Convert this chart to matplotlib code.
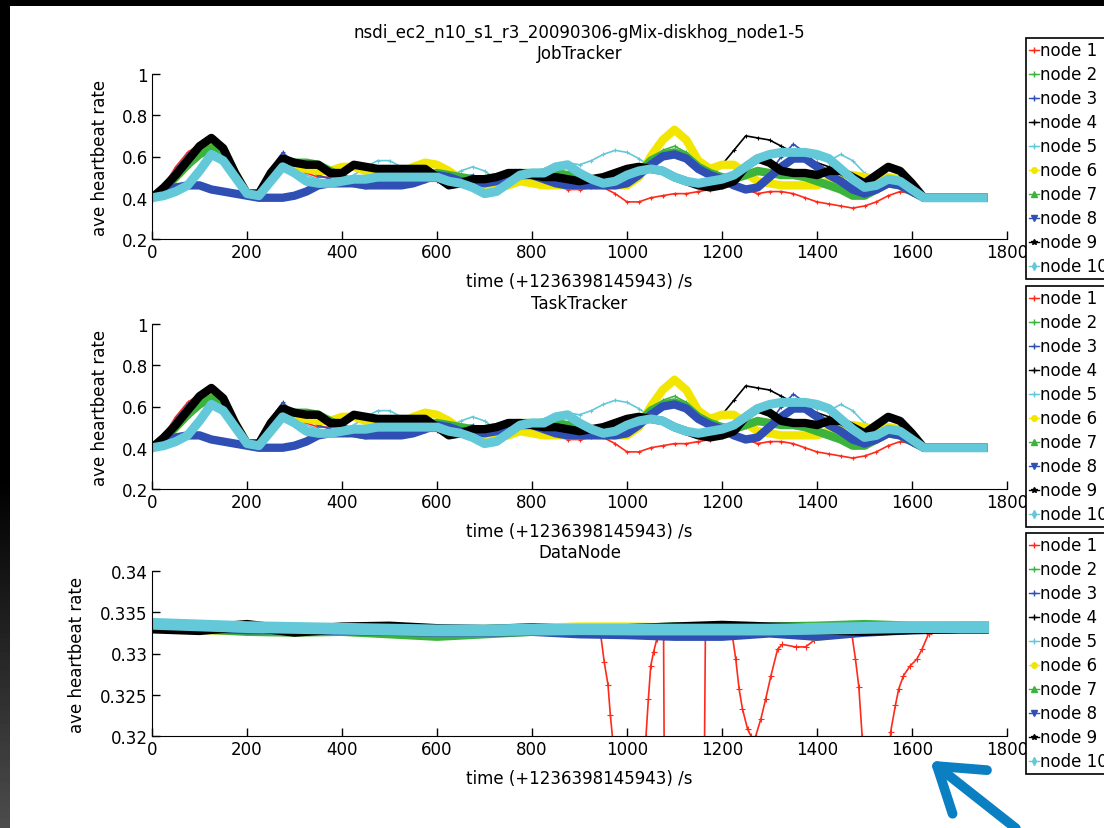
import numpy as np
import matplotlib
matplotlib.use('Agg')
import matplotlib.pyplot as plt
from matplotlib.lines import Line2D
from matplotlib.patches import FancyArrowPatch, Rectangle

# heartbeat rate samples, 25 s apart (0 .. 1750 s)
t = np.arange(0, 1751, 25)
tail = [0.40] * 5   # 1650 .. 1750

node1 = [0.40, 0.46, 0.55, 0.62, 0.66, 0.66, 0.62, 0.52, 0.42, 0.42,
         0.51, 0.58, 0.55, 0.52, 0.50, 0.50, 0.50, 0.50, 0.50, 0.49,
         0.48, 0.48, 0.48, 0.48, 0.48, 0.47, 0.50, 0.50, 0.47, 0.46,
         0.47, 0.48, 0.48, 0.48, 0.46, 0.44, 0.44, 0.45, 0.45, 0.42,
         0.38, 0.38, 0.40, 0.41, 0.42, 0.42, 0.43, 0.44, 0.45, 0.46,
         0.44, 0.42, 0.43, 0.43, 0.42, 0.40, 0.38, 0.37, 0.36, 0.35,
         0.36, 0.38, 0.41, 0.43, 0.42, 0.40] + tail
node2 = [0.40, 0.45, 0.52, 0.58, 0.63, 0.65, 0.61, 0.52, 0.42, 0.42,
         0.51, 0.58, 0.57, 0.57, 0.55, 0.52, 0.50, 0.48, 0.47, 0.49,
         0.52, 0.53, 0.53, 0.52, 0.52, 0.52, 0.51, 0.50, 0.49, 0.50,
         0.51, 0.52, 0.52, 0.52, 0.52, 0.51, 0.50, 0.50, 0.49, 0.49,
         0.50, 0.53, 0.58, 0.63, 0.65, 0.62, 0.56, 0.52, 0.50, 0.49,
         0.50, 0.52, 0.52, 0.53, 0.53, 0.51, 0.49, 0.47, 0.44, 0.42,
         0.42, 0.44, 0.47, 0.46, 0.43, 0.40] + tail
node3 = [0.40, 0.46, 0.54, 0.61, 0.66, 0.66, 0.61, 0.52, 0.42, 0.42,
         0.54, 0.62, 0.57, 0.54, 0.51, 0.49, 0.48, 0.48, 0.48, 0.48,
         0.48, 0.48, 0.49, 0.50, 0.51, 0.51, 0.50, 0.51, 0.49, 0.48,
         0.49, 0.50, 0.50, 0.49, 0.48, 0.47, 0.47, 0.47, 0.47, 0.48,
         0.49, 0.52, 0.56, 0.60, 0.61, 0.59, 0.54, 0.51, 0.49, 0.47,
         0.45, 0.46, 0.52, 0.60, 0.66, 0.62, 0.56, 0.52, 0.48, 0.45,
         0.43, 0.45, 0.48, 0.47, 0.43, 0.40] + tail
node4 = [0.40, 0.45, 0.51, 0.58, 0.65, 0.70, 0.65, 0.52, 0.42, 0.42,
         0.52, 0.59, 0.57, 0.56, 0.56, 0.52, 0.52, 0.56, 0.55, 0.54,
         0.54, 0.54, 0.54, 0.54, 0.50, 0.46, 0.47, 0.49, 0.49, 0.50,
         0.52, 0.52, 0.51, 0.50, 0.50, 0.49, 0.48, 0.49, 0.50, 0.52,
         0.54, 0.55, 0.54, 0.53, 0.50, 0.48, 0.46, 0.50, 0.56, 0.63,
         0.70, 0.69, 0.68, 0.65, 0.62, 0.59, 0.57, 0.55, 0.53, 0.50,
         0.47, 0.51, 0.55, 0.53, 0.47, 0.40] + tail
node5 = [0.40, 0.45, 0.52, 0.58, 0.62, 0.64, 0.60, 0.51, 0.42, 0.42,
         0.51, 0.57, 0.54, 0.51, 0.49, 0.48, 0.49, 0.51, 0.55, 0.58,
         0.58, 0.55, 0.52, 0.51, 0.50, 0.50, 0.53, 0.55, 0.53, 0.49,
         0.48, 0.51, 0.53, 0.54, 0.56, 0.57, 0.56, 0.58, 0.61, 0.63,
         0.62, 0.59, 0.55, 0.52, 0.50, 0.48, 0.47, 0.48, 0.50, 0.52,
         0.56, 0.60, 0.62, 0.63, 0.62, 0.61, 0.59, 0.58, 0.61, 0.58,
         0.52, 0.48, 0.49, 0.47, 0.43, 0.40] + tail
node6 = [0.40, 0.44, 0.50, 0.56, 0.62, 0.66, 0.62, 0.52, 0.42, 0.42,
         0.50, 0.57, 0.55, 0.54, 0.53, 0.53, 0.55, 0.55, 0.53, 0.51,
         0.51, 0.52, 0.55, 0.57, 0.56, 0.53, 0.49, 0.46, 0.45, 0.45,
         0.46, 0.48, 0.47, 0.46, 0.46, 0.46, 0.46, 0.47, 0.47, 0.46,
         0.46, 0.50, 0.60, 0.68, 0.73, 0.68, 0.58, 0.54, 0.56, 0.56,
         0.52, 0.48, 0.47, 0.46, 0.46, 0.46, 0.46, 0.48, 0.51, 0.51,
         0.50, 0.49, 0.50, 0.49, 0.44, 0.40] + tail
node7 = [0.40, 0.44, 0.50, 0.56, 0.61, 0.64, 0.60, 0.51, 0.42, 0.42,
         0.50, 0.57, 0.57, 0.57, 0.56, 0.53, 0.50, 0.47, 0.46, 0.48,
         0.52, 0.53, 0.52, 0.51, 0.52, 0.51, 0.50, 0.49, 0.49, 0.50,
         0.51, 0.52, 0.52, 0.52, 0.52, 0.51, 0.50, 0.49, 0.48, 0.48,
         0.49, 0.52, 0.58, 0.61, 0.62, 0.60, 0.55, 0.52, 0.50, 0.49,
         0.51, 0.53, 0.52, 0.51, 0.51, 0.50, 0.48, 0.46, 0.44, 0.41,
         0.41, 0.44, 0.47, 0.46, 0.43, 0.40] + tail
node8 = [0.40, 0.43, 0.45, 0.46, 0.46, 0.44, 0.43, 0.42, 0.41, 0.40,
         0.40, 0.40, 0.41, 0.43, 0.46, 0.47, 0.47, 0.47, 0.46, 0.46,
         0.46, 0.46, 0.47, 0.49, 0.51, 0.50, 0.48, 0.48, 0.47, 0.48,
         0.50, 0.51, 0.51, 0.49, 0.47, 0.46, 0.46, 0.46, 0.46, 0.46,
         0.47, 0.51, 0.56, 0.60, 0.61, 0.59, 0.54, 0.51, 0.49, 0.46,
         0.44, 0.45, 0.50, 0.55, 0.59, 0.59, 0.55, 0.51, 0.48, 0.44,
         0.42, 0.44, 0.47, 0.46, 0.43, 0.40] + tail
node9 = [0.40, 0.45, 0.51, 0.58, 0.65, 0.69, 0.64, 0.52, 0.42, 0.42,
         0.52, 0.59, 0.57, 0.56, 0.56, 0.52, 0.52, 0.56, 0.55, 0.54,
         0.54, 0.54, 0.54, 0.54, 0.50, 0.46, 0.47, 0.49, 0.49, 0.50,
         0.52, 0.52, 0.51, 0.50, 0.50, 0.49, 0.48, 0.49, 0.50, 0.52,
         0.54, 0.55, 0.54, 0.53, 0.50, 0.48, 0.46, 0.45, 0.46, 0.48,
         0.55, 0.59, 0.57, 0.53, 0.52, 0.52, 0.51, 0.53, 0.53, 0.50,
         0.47, 0.51, 0.55, 0.53, 0.47, 0.40] + tail
node10 = [0.40, 0.41, 0.43, 0.46, 0.53, 0.61, 0.58, 0.50, 0.42, 0.41,
          0.48, 0.55, 0.52, 0.48, 0.47, 0.47, 0.48, 0.49, 0.49, 0.50,
          0.50, 0.50, 0.50, 0.50, 0.50, 0.48, 0.47, 0.45, 0.42, 0.43,
          0.47, 0.51, 0.52, 0.52, 0.55, 0.56, 0.52, 0.49, 0.47, 0.48,
          0.51, 0.53, 0.54, 0.53, 0.50, 0.48, 0.47, 0.48, 0.49, 0.51,
          0.55, 0.59, 0.61, 0.62, 0.62, 0.62, 0.61, 0.59, 0.54, 0.49,
          0.45, 0.46, 0.49, 0.48, 0.44, 0.40] + tail

tracker_series = [node1, node2, node3, node4, node5,
                  node6, node7, node8, node9, node10]

# DataNode rates, sampled every 100 s (last sample at 1750 s)
dn_t = [0, 100, 200, 300, 400, 500, 600, 700, 800, 900,
        1000, 1100, 1200, 1300, 1400, 1500, 1600, 1700, 1750]
dn2 = [0.3334, 0.3331, 0.3329, 0.3328, 0.3328, 0.3326, 0.3324, 0.3326, 0.3328, 0.3329,
       0.3328, 0.3330, 0.3331, 0.3332, 0.3334, 0.3335, 0.3333, 0.3332, 0.3332]
dn3 = [0.3334, 0.3332, 0.3330, 0.3330, 0.3329, 0.3328, 0.3327, 0.3327, 0.3328, 0.3327,
       0.3325, 0.3323, 0.3324, 0.3326, 0.3324, 0.3327, 0.3330, 0.3331, 0.3331]
dn4 = [0.3331, 0.3328, 0.3330, 0.3327, 0.3331, 0.3330, 0.3329, 0.3328, 0.3330, 0.3329,
       0.3329, 0.3331, 0.3332, 0.3331, 0.3333, 0.3326, 0.3330, 0.3331, 0.3331]
dn5 = [0.3336, 0.3334, 0.3333, 0.3332, 0.3331, 0.3331, 0.3330, 0.3330, 0.3330, 0.3330,
       0.3330, 0.3330, 0.3330, 0.3330, 0.3331, 0.3332, 0.3333, 0.3333, 0.3333]
dn6 = [0.3333, 0.3330, 0.3329, 0.3328, 0.3328, 0.3327, 0.3327, 0.3328, 0.3329, 0.3331,
       0.3331, 0.3330, 0.3329, 0.3327, 0.3322, 0.3328, 0.3331, 0.3332, 0.3332]
dn7 = [0.3334, 0.3331, 0.3328, 0.3327, 0.3328, 0.3325, 0.3322, 0.3325, 0.3328, 0.3329,
       0.3329, 0.3331, 0.3330, 0.3331, 0.3332, 0.3334, 0.3332, 0.3332, 0.3332]
dn8 = [0.3334, 0.3332, 0.3330, 0.3330, 0.3329, 0.3328, 0.3327, 0.3327, 0.3328, 0.3325,
       0.3324, 0.3322, 0.3322, 0.3326, 0.3322, 0.3327, 0.3330, 0.3331, 0.3331]
dn9 = [0.3331, 0.3329, 0.3334, 0.3327, 0.3331, 0.3332, 0.3329, 0.3328, 0.3330, 0.3328,
       0.3329, 0.3331, 0.3333, 0.3331, 0.3330, 0.3328, 0.3330, 0.3331, 0.3331]
dn10 = [0.3336, 0.3334, 0.3332, 0.3331, 0.3330, 0.3329, 0.3328, 0.3328, 0.3329, 0.3329,
        0.3329, 0.3329, 0.3329, 0.3329, 0.3330, 0.3331, 0.3332, 0.3332, 0.3332]

# node 1 drops far below the plotted range several times
dn1_t = [0, 200, 400, 600, 800, 945, 952, 960, 965, 970, 975,
         1035, 1040, 1045, 1050, 1056, 1063, 1077, 1079,
         1162, 1165, 1222, 1229, 1236, 1243, 1254, 1261, 1265, 1271,
         1282, 1292, 1303, 1317, 1327, 1355, 1376, 1394, 1404,
         1474, 1481, 1488, 1495, 1500, 1550, 1555, 1565, 1572, 1582,
         1596, 1610, 1621, 1635, 1650, 1700, 1750]
dn1 = [0.3334, 0.3332, 0.3330, 0.3329, 0.3330, 0.3321, 0.3290, 0.3262, 0.3225, 0.3195, 0.3100,
       0.3100, 0.3200, 0.3245, 0.3285, 0.3302, 0.3318, 0.3320, 0.3100,
       0.3100, 0.3322, 0.3321, 0.3293, 0.3257, 0.3233, 0.3208, 0.3200, 0.3192, 0.3200,
       0.3221, 0.3245, 0.3273, 0.3305, 0.3311, 0.3308, 0.3308, 0.3316, 0.3321,
       0.3321, 0.3293, 0.3260, 0.3200, 0.3100, 0.3100, 0.3205, 0.3237, 0.3257, 0.3273,
       0.3285, 0.3293, 0.3305, 0.3324, 0.3330, 0.3331, 0.3332]

datanode_series = [(dn1_t, dn1), (dn_t, dn2), (dn_t, dn3), (dn_t, dn4), (dn_t, dn5),
                   (dn_t, dn6), (dn_t, dn7), (dn_t, dn8), (dn_t, dn9), (dn_t, dn10)]

labels = ['node %d' % i for i in range(1, 11)]
colors = ['#ff2a1a', '#3cb43c', '#2f4fb4', '#000000', '#63c9d9',
          '#f2e600', '#3cb43c', '#2f4fb4', '#000000', '#63c9d9']
markers = ['+', '+', '+', '+', '+', 'o', '^', 'v', '*', 'd']
widths = [1.2, 1.2, 1.2, 1.2, 1.2, 6.0, 6.0, 6.0, 6.0, 6.5]

plt.rcParams['font.family'] = 'DejaVu Sans'
plt.rcParams['font.size'] = 12

W, H = 1104, 829
fig = plt.figure(figsize=(W / 100, H / 100), dpi=100, facecolor='black')

# white page, black frame on top, dark fade on the left edge
fig.patches.append(Rectangle((10 / W, 0), 1, 1 - 7 / H, transform=fig.transFigure,
                             facecolor='white', edgecolor='none', zorder=-10))
edge = fig.add_axes([0, 0, 10 / W, 1], zorder=-5)
shade = np.concatenate([np.zeros(480), np.linspace(0, 0.3, 349)])[:, None]
edge.imshow(shade, cmap='gray', vmin=0, vmax=1, aspect='auto', extent=[0, 1, 0, 1])
edge.axis('off')


def style_axis(ax, ylim, yticks, yfmt):
    ax.set_xlim(0, 1800)
    ax.set_ylim(*ylim)
    ax.set_xticks(range(0, 1801, 200))
    ax.set_yticks(yticks)
    ax.set_yticklabels([yfmt(v) for v in yticks])
    ax.spines['top'].set_visible(False)
    ax.spines['right'].set_visible(False)
    ax.tick_params(direction='in', length=6, width=1, labelsize=12, pad=3)
    ax.set_xlabel('time (+1236398145943) /s', fontsize=12)
    ax.xaxis.set_label_coords(0.5, -0.2)
    ax.set_ylabel('ave heartbeat rate', fontsize=12)


def add_legend(top_px):
    handles = [Line2D([], [], color=c, marker=m, markersize=4, lw=1)
               for c, m in zip(colors, markers)]
    leg = fig.legend(handles, labels, loc='upper left',
                     bbox_to_anchor=(1026 / W, 1 - top_px / H),
                     bbox_transform=fig.transFigure, borderaxespad=0,
                     borderpad=0.2, handlelength=0.6, handletextpad=0.05,
                     labelspacing=0.36, fontsize=12, fancybox=False,
                     framealpha=1, edgecolor='black')
    leg.get_frame().set_linewidth(1.2)


left, width, height = 152 / W, 855 / W, 165 / H

# JobTracker and TaskTracker
for top_px, name, leg_top in [(75, 'JobTracker', 39), (325, 'TaskTracker', 287)]:
    ax = fig.add_axes([left, 1 - (top_px + 165) / H, width, height])
    for y, c, m, lw in zip(tracker_series, colors, markers, widths):
        ax.plot(t, y, color=c, lw=lw, marker=m, markersize=3, markeredgewidth=0.8)
    style_axis(ax, (0.2, 1.0), [0.2, 0.4, 0.6, 0.8, 1.0],
               lambda v: '1' if v == 1 else '%.1f' % v)
    ax.yaxis.set_label_coords(-0.05, 0.5)
    ax.text(0.5, 1.125, name, transform=ax.transAxes, ha='center', va='center', fontsize=12)
    if name == 'JobTracker':
        ax.text(0.5, 1.255, 'nsdi_ec2_n10_s1_r3_20090306-gMix-diskhog_node1-5',
                transform=ax.transAxes, ha='center', va='center', fontsize=12)
    add_legend(leg_top)

# DataNode
ax = fig.add_axes([left, 1 - (572 + 165) / H, width, height])
for (x, y), c, m, lw in zip(datanode_series, colors, markers, widths):
    ax.plot(x, y, color=c, lw=lw + (2 if lw > 5 else 0), marker=m,
            markersize=4 if c == '#ff2a1a' else 2, markeredgewidth=0.8)
style_axis(ax, (0.32, 0.34), [0.32, 0.325, 0.33, 0.335, 0.34],
           lambda v: ('%.3f' % v).rstrip('0'))
ax.yaxis.set_label_coords(-0.077, 0.5)
ax.text(0.5, 1.115, 'DataNode', transform=ax.transAxes, ha='center', va='center', fontsize=12)
add_legend(534)

# pointer arrow
arrow = FancyArrowPatch((1018 / W, -2 / H), (928 / W, 1 - 760 / H),
                        transform=fig.transFigure, arrowstyle='->,head_length=0.75,head_width=0.5',
                        mutation_scale=40, color='#0a7fc2', lw=7, capstyle='round',
                        joinstyle='round')
fig.patches.append(arrow)

fig.savefig('out.png', dpi=100, facecolor=fig.get_facecolor())
